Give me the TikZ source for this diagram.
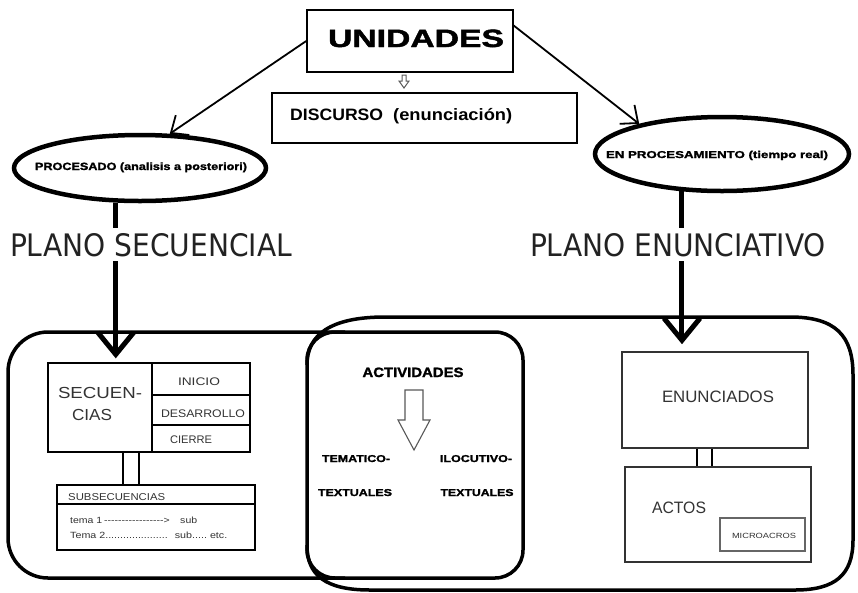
\documentclass[tikz,border=0pt]{standalone}
\usepackage{fontspec}
\usepackage{graphicx}
\setmainfont{Liberation Sans}
\newfontfamily\heavy[BoldFeatures={FakeBold=1.6}]{Liberation Sans}
\newfontfamily\plfont{DejaVu Sans}
\usetikzlibrary{arrows.meta,shapes.geometric}
\newcommand\fw[2]{\resizebox{#1}{\height}{#2}}
\newcommand\fsz[1]{\fontsize{#1}{#1}\selectfont}
\definecolor{ink}{HTML}{222222}
\definecolor{softink}{HTML}{333333}
\begin{document}
\begin{tikzpicture}[x=1pt,y=-1pt,
  box/.style={draw, line width=1.5pt, inner sep=0pt},
  ibox/.style={draw, line width=1.3pt, inner sep=0pt},
  gbox/.style={draw=softink, line width=1.6pt, inner sep=0pt},
  cont/.style={line width=3.5pt, line join=round},
  oval/.style={ellipse, draw, line width=4.5pt, inner sep=0pt},
  thinarr/.style={line width=1.8pt, -{Straight Barb[length=14pt,width=24pt]}},
  thickarr/.style={line width=5pt, -{Straight Barb[length=22pt,width=36pt]}},
  txt/.style={inner sep=0pt, anchor=base},
  hollow/.style={draw=gray!70!black, line width=1pt, fill=white, line join=miter},
  conn/.style={line width=1.5pt},
]
\useasboundingbox (0,0) rectangle (858,592);
\fill[white] (0,0) rectangle (858,592);

% ---- containers ----
\draw[cont, rounded corners=40pt] (345,332) -- (8,332) -- (8,578) -- (345,578);
\draw[cont, rounded corners=28pt] (307,332) rectangle (523,578);
\draw[cont] (307,365) .. controls (307,335) and (330,317) .. (385,317)
  -- (790,317) .. controls (835,317) and (853,335) .. (853,375)
  -- (853,540) .. controls (853,575) and (835,590) .. (795,590)
  -- (370,590) .. controls (325,590) and (307,575) .. (307,545);

% ---- top boxes ----
\node[box, minimum width=206pt, minimum height=62pt] (unid) at (410,41) {};
\node[box, minimum width=305pt, minimum height=50pt] (disc) at (424.5,118) {};
\draw[hollow] (402,75) -- (406,75) -- (406,81) -- (409,81) -- (404,88) -- (399,81) -- (402,81) -- cycle;

% ---- ellipses ----
\node[oval, minimum width=252pt, minimum height=66pt] (proc) at (140,168) {};
\node[oval, minimum width=254pt, minimum height=74pt] (encl) at (722,154) {};

% ---- left inner boxes ----
\node[ibox, minimum width=104pt, minimum height=89pt] (secu) at (100,407.5) {};
\node[ibox, minimum width=98pt, minimum height=32pt] (ini) at (201,379) {};
\node[ibox, minimum width=98pt, minimum height=30pt] (des) at (201,410) {};
\node[ibox, minimum width=98pt, minimum height=27pt] (cie) at (201,438.5) {};
\node[ibox, minimum width=198pt, minimum height=65pt] (subs) at (156,517.5) {};
\draw[line width=1.2pt] (subs.west |- 0,504) -- (subs.east |- 0,504);
\draw[conn] ([xshift=23pt]secu.south) -- ([xshift=23pt]secu.south |- subs.north);
\draw[conn] ([xshift=39pt]secu.south) -- ([xshift=39pt]secu.south |- subs.north);

% ---- right inner boxes ----
\node[gbox, minimum width=186pt, minimum height=96pt] (enun) at (715,400) {};
\node[gbox, minimum width=186pt, minimum height=95pt] (actos) at (718,514.5) {};
\node[draw=gray!80!black, line width=1.2pt, inner sep=0pt, minimum width=85pt, minimum height=33pt] (micro) at (762.5,534.5) {};
\draw[line width=2pt] ([xshift=-18pt]enun.south) -- ([xshift=-18pt]enun.south |- actos.north);
\draw[line width=2pt] ([xshift=-3pt]enun.south) -- ([xshift=-3pt]enun.south |- actos.north);

% ---- middle hollow arrow ----
\draw[hollow, line width=1.1pt] (405,390) -- (423,390) -- (423,420) -- (430,420) -- (414,450) -- (398,420) -- (405,420) -- cycle;

% ---- arrows ----
\draw[thinarr] (unid.west) -- (proc.49);
\coordinate (ustart) at (513,25);
\draw[thinarr] (ustart) -- (encl.160);
\draw[thickarr, shorten >=4pt] (proc.235) -- (proc.235 |- secu.north);
\draw[thickarr, shorten >=7pt] (encl.223) -- (encl.223 |- enun.north);

% ---- texts ----
\node[txt, font=\heavy\bfseries\fsz{25}] (tunid) at (416,47) {\fw{176pt}{UNIDADES}};
\node[txt, anchor=base west, font=\bfseries\fsz{16.5}] (tdisc) at (290,120) {\fw{93pt}{DISCURSO}};
\node[txt, anchor=base west, font=\bfseries\fsz{16.5}] (tenun) at (393,120) {\fw{119pt}{(enunciación)}};
\node[txt, font=\heavy\bfseries\fsz{10.5}] (tproc) at (141,170) {\fw{212pt}{PROCESADO (analisis a posteriori)}};
\node[txt, font=\heavy\bfseries\fsz{10}] (tencl) at (717,158) {\fw{222pt}{EN PROCESAMIENTO (tiempo real)}};

\node[txt, fill=white, inner ysep=5pt, inner xsep=0pt, text=ink, font=\plfont\fsz{31}] (plsec) at (151,256) {\fw{282pt}{PLANO SECUENCIAL}};
\node[txt, fill=white, inner ysep=5pt, inner xsep=0pt, text=ink, font=\plfont\fsz{31}] (plenu) at (678,256) {\fw{296pt}{PLANO ENUNCIATIVO}};

\node[txt, text=softink, font=\fsz{16}] (tsec1) at (100,398) {\fw{84pt}{SECUEN-}};
\node[txt, text=softink, font=\fsz{16}] (tsec2) at (92,420) {\fw{40pt}{CIAS}};
\node[txt, text=softink, font=\fsz{11}] (tini) at (199,385) {\fw{42pt}{INICIO}};
\node[txt, text=softink, font=\fsz{11}] (tdes) at (203,417) {\fw{84pt}{DESARROLLO}};
\node[txt, text=softink, font=\fsz{11}] (tcie) at (191,443) {\fw{42pt}{CIERRE}};
\node[txt, anchor=base west, text=softink, font=\fsz{10}] (tsubs) at (68,500) {\fw{97pt}{SUBSECUENCIAS}};
\node[txt, anchor=base west, text=softink, font=\fsz{9}] (tt1) at (70,523) {\fw{127pt}{tema 1\,-{}-{}-{}-{}-{}-{}-{}-{}-{}-{}-{}-{}-{}-{}-{}-{}-{}>\hspace{9pt}sub}};
\node[txt, anchor=base west, text=softink, font=\fsz{9}] (tt2) at (70,538) {\fw{157pt}{Tema 2.....................\hspace{6pt}sub.....\ etc.}};

\node[txt, font=\heavy\bfseries\fsz{13.5}] (tact) at (413,377) {\fw{101pt}{ACTIVIDADES}};
\node[txt, font=\heavy\bfseries\fsz{10}] (ttem) at (356,462) {\fw{68pt}{TEMATICO-}};
\node[txt, font=\heavy\bfseries\fsz{10}] (ttx1) at (355,496) {\fw{74pt}{TEXTUALES}};
\node[txt, font=\heavy\bfseries\fsz{10}] (tilo) at (476,462) {\fw{72pt}{ILOCUTIVO-}};
\node[txt, font=\heavy\bfseries\fsz{10}] (ttx2) at (477,496) {\fw{73pt}{TEXTUALES}};

\node[txt, text=softink, font=\fsz{16.5}] (tenun2) at (718,402) {\fw{112pt}{ENUNCIADOS}};
\node[txt, text=softink, font=\fsz{16.5}] (tactos) at (679,513) {\fw{54pt}{ACTOS}};
\node[txt, text=softink, font=\fsz{7.5}] (tmicro) at (764,538) {\fw{64pt}{MICROACROS}};
\end{tikzpicture}
\end{document}
